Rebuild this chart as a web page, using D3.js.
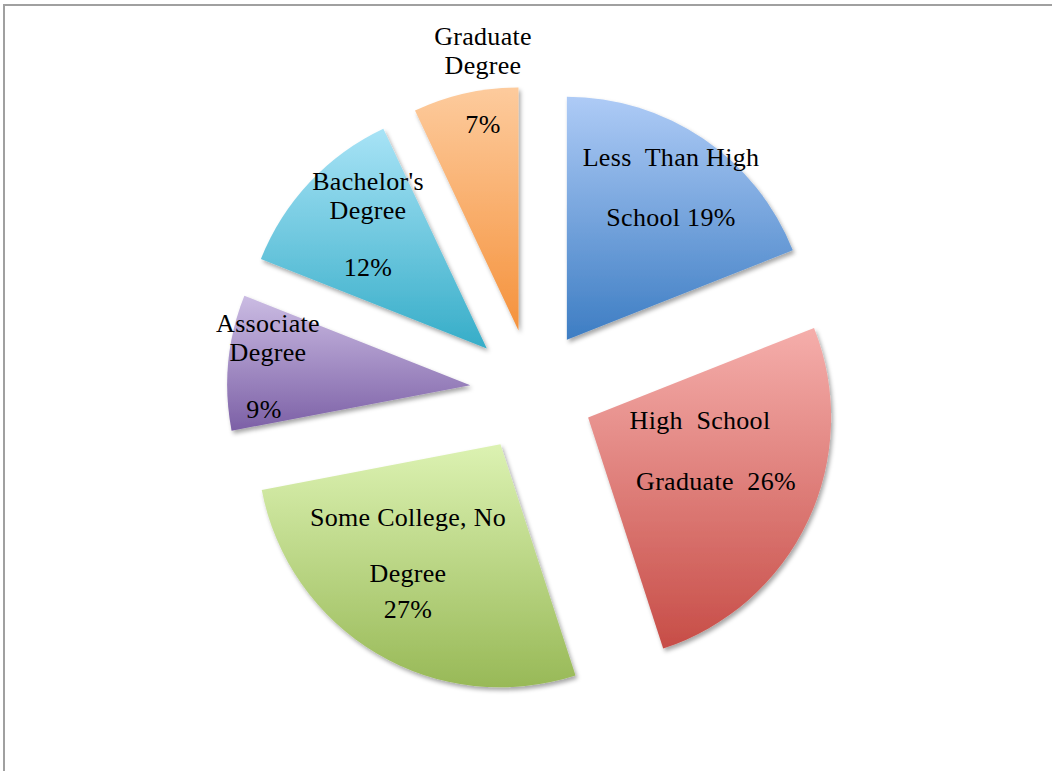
<!DOCTYPE html>
<html>
<head>
<meta charset="utf-8">
<script src="https://cdn.jsdelivr.net/npm/d3@7"></script>
<style>
  html, body { margin: 0; padding: 0; background: #fff; }
  svg { display: block; }
  .label { font-family: "Liberation Serif", "Times New Roman", serif; font-size: 26px; letter-spacing: 0.3px; fill: #000; }
</style>
</head>
<body>
<svg id="chart" width="1052" height="771"></svg>
<script>
// data
const categories = ["Less Than High School", "High School Graduate", "Some College, No Degree",
  "Associate Degree", "Bachelor's Degree", "Graduate Degree"];
const shares = [19, 26, 27, 9, 12, 7];
const labelLines = [
  ["Less  Than High", "School 19%"],
  ["High  School", "Graduate  26%"],
  ["Some College, No", "Degree", "27%"],
  ["Associate", "Degree", "9%"],
  ["Bachelor's", "Degree", "12%"],
  ["Graduate", "Degree", "7%"]
];

// styling / layout
const colorTop = ["#aecbf6", "#f5aeab", "#dcf2b2", "#cbbce3", "#a8e3f6", "#fdcb9d"];
const colorBottom = ["#3d7dc3", "#c74d47", "#98b957", "#7c60a6", "#36adc8", "#f5923c"];
// label anchor (centre x, first baseline y) and line gaps, hand placed as in the reference
const labelPos = [
  {x: 671, y: 166, gaps: [60]},
  {x: 700, y: 429, gaps: [61], dx: [0, 16]},
  {x: 408, y: 526, gaps: [56, 36]},
  {x: 268, y: 332, gaps: [29, 57], dx: [0, 0, -4]},
  {x: 368, y: 190, gaps: [29, 57]},
  {x: 483, y: 45, gaps: [29, 59]}
];

const width = 1052, height = 771;
const cx = 532, cy = 391;
const radius = 243;
const explode = 62;

const svg = d3.select("#chart");

// outer chart frame (only top and left edges fall inside the picture)
svg.append("rect")
  .attr("x", 4).attr("y", 5)
  .attr("width", width + 20).attr("height", height + 20)
  .attr("fill", "#fff")
  .attr("stroke", "#a0a0a0")
  .attr("stroke-width", 2);

const defs = svg.append("defs");

const shadow = defs.append("filter")
  .attr("id", "shadow")
  .attr("x", "-10%").attr("y", "-10%")
  .attr("width", "130%").attr("height", "130%");
shadow.append("feDropShadow")
  .attr("dx", 2).attr("dy", 3)
  .attr("stdDeviation", 2)
  .attr("flood-color", "#000")
  .attr("flood-opacity", 0.35);

categories.forEach((c, i) => {
  const g = defs.append("linearGradient")
    .attr("id", "grad" + i)
    .attr("x1", 0).attr("y1", 0)
    .attr("x2", 0).attr("y2", 1);
  g.append("stop").attr("offset", "0%").attr("stop-color", colorTop[i]);
  g.append("stop").attr("offset", "100%").attr("stop-color", colorBottom[i]);
});

const pie = d3.pie().sort(null).value(d => d)(shares);
const arc = d3.arc().innerRadius(0).outerRadius(radius);

svg.append("g")
  .attr("transform", `translate(${cx},${cy})`)
  .selectAll("path")
  .data(pie)
  .enter()
  .append("path")
  .attr("transform", d => {
    const mid = (d.startAngle + d.endAngle) / 2;
    return `translate(${explode * Math.sin(mid)},${-explode * Math.cos(mid)})`;
  })
  .attr("d", arc)
  .attr("fill", (d, i) => `url(#grad${i})`)
  .attr("filter", "url(#shadow)");

// labels
labelLines.forEach((lines, i) => {
  const p = labelPos[i];
  let y = p.y;
  const t = svg.append("text")
    .attr("class", "label")
    .attr("text-anchor", "middle")
    .style("white-space", "pre");
  lines.forEach((line, j) => {
    if (j > 0) y += p.gaps[j - 1];
    t.append("tspan")
      .attr("x", p.x + (p.dx ? p.dx[j] : 0))
      .attr("y", y)
      .text(line);
  });
});
</script>
</body>
</html>
